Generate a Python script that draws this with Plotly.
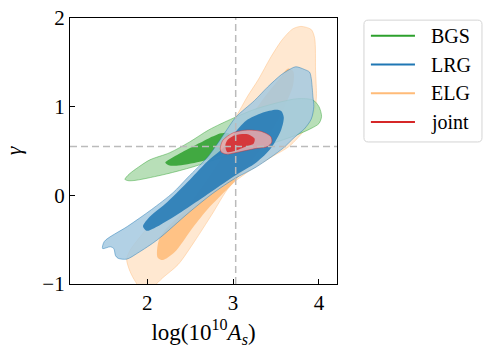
import plotly.graph_objects as go

# fiducial values (dashed guides)
AS_FID = 3.03
GAMMA_FID = 0.55

# 68% / 95% contour outlines, (log(10^10 A_s), gamma)
BGS_OUTER_X = [1.74, 1.79, 1.90, 2.03, 2.26, 2.49, 2.72, 3.00, 3.25, 3.56, 3.75, 3.93, 4.00, 4.03, 4.00, 3.91, 3.71, 3.34, 2.88, 2.53, 2.22, 1.87, 1.78]
BGS_OUTER_Y = [0.18, 0.24, 0.32, 0.40, 0.48, 0.60, 0.74, 0.87, 0.97, 1.055, 1.09, 1.075, 1.00, 0.89, 0.81, 0.755, 0.67, 0.55, 0.43, 0.32, 0.24, 0.17, 0.165]
BGS_INNER_X = [2.21, 2.30, 2.41, 2.61, 2.72, 2.86, 2.95, 2.98, 2.84, 2.61, 2.34, 2.25]
BGS_INNER_Y = [0.37, 0.43, 0.49, 0.59, 0.645, 0.70, 0.70, 0.58, 0.45, 0.38, 0.335, 0.34]

LRG_OUTER_X = [3.64, 3.73, 3.83, 3.89, 3.91, 3.93, 3.94, 3.91, 3.83, 3.71, 3.58, 3.27, 3.02, 2.76, 2.49, 2.12, 1.89, 1.76, 1.66, 1.63, 1.61, 1.57, 1.48, 1.50, 1.77, 2.05, 2.30, 2.47, 2.72, 2.90, 3.03, 3.25, 3.40, 3.56]
LRG_OUTER_Y = [1.41, 1.45, 1.42, 1.39, 1.32, 1.11, 1.00, 0.86, 0.75, 0.65, 0.53, 0.32, 0.19, 0.02, -0.19, -0.50, -0.65, -0.72, -0.71, -0.68, -0.60, -0.58, -0.60, -0.52, -0.35, -0.16, 0.03, 0.20, 0.45, 0.70, 0.88, 1.07, 1.22, 1.36]
LRG_INNER_X = [1.95, 2.01, 2.24, 2.49, 2.72, 2.88, 3.00, 3.15, 3.34, 3.50, 3.56, 3.59, 3.56, 3.44, 3.27, 3.02, 2.67, 2.36, 2.08, 1.99]
LRG_INNER_Y = [-0.35, -0.26, -0.07, 0.17, 0.40, 0.53, 0.68, 0.84, 0.93, 0.965, 0.95, 0.88, 0.74, 0.53, 0.37, 0.22, -0.01, -0.21, -0.37, -0.40]

ELG_OUTER_X = [3.70, 3.79, 3.91, 3.95, 3.96, 3.97, 3.95, 3.85, 3.65, 3.46, 3.15, 2.96, 2.75, 2.55, 2.36, 2.18, 2.08, 1.95, 1.86, 1.80, 1.76, 1.80, 1.89, 2.08, 2.32, 2.55, 2.80, 3.03, 3.17, 3.29, 3.44, 3.56, 3.64]
ELG_OUTER_Y = [1.88, 1.905, 1.87, 1.77, 1.41, 1.12, 0.95, 0.76, 0.55, 0.44, 0.25, 0.10, -0.22, -0.52, -0.78, -0.93, -1.02, -1.08, -0.97, -0.86, -0.72, -0.62, -0.50, -0.28, -0.04, 0.17, 0.52, 0.88, 1.12, 1.30, 1.56, 1.74, 1.83]
ELG_INNER_X = [2.12, 2.18, 2.32, 2.51, 2.69, 2.88, 3.02, 3.30, 3.55, 3.70, 3.70, 3.64, 3.55, 3.40, 3.10, 2.75, 2.45, 2.20, 2.13]
ELG_INNER_Y = [-0.70, -0.73, -0.64, -0.39, -0.17, 0.02, 0.16, 0.50, 0.90, 1.25, 1.40, 1.43, 1.33, 1.15, 0.75, 0.25, -0.15, -0.40, -0.52]

JOINT_OUTER_X = [2.85, 2.88, 3.00, 3.15, 3.33, 3.44, 3.45, 3.40, 3.27, 3.07, 2.92, 2.86]
JOINT_OUTER_Y = [0.53, 0.62, 0.705, 0.735, 0.72, 0.66, 0.60, 0.55, 0.53, 0.49, 0.465, 0.49]
JOINT_INNER_X = [2.91, 2.94, 3.03, 3.17, 3.25, 3.24, 3.15, 3.02, 2.93]
JOINT_INNER_Y = [0.57, 0.63, 0.68, 0.69, 0.64, 0.585, 0.55, 0.50, 0.49]

LABELS = ["BGS", "LRG", "ELG", "joint"]
COLORS = {"BGS": (44, 160, 44), "LRG": (31, 119, 180), "ELG": (255, 187, 120), "joint": (214, 39, 40)}

CONTOURS = {
    "ELG": (ELG_OUTER_X, ELG_OUTER_Y, ELG_INNER_X, ELG_INNER_Y),
    "BGS": (BGS_OUTER_X, BGS_OUTER_Y, BGS_INNER_X, BGS_INNER_Y),
    "LRG": (LRG_OUTER_X, LRG_OUTER_Y, LRG_INNER_X, LRG_INNER_Y),
    "joint": (JOINT_OUTER_X, JOINT_OUTER_Y, JOINT_INNER_X, JOINT_INNER_Y),
}
DRAW_ORDER = ["ELG", "BGS", "LRG", "joint"]


def rgba(c, a):
    return f"rgba({c[0]},{c[1]},{c[2]},{a})"


def lighter(c, rat=0.6):
    # getdist-style outer band: base colour mixed towards white
    return tuple(round(v * (1 - rat) + 255 * rat) for v in c)


FONT = "Liberation Serif"
fig = go.Figure()

for name in DRAW_ORDER:
    ox, oy, ix, iy = CONTOURS[name]
    c = COLORS[name]
    fig.add_trace(go.Scatter(
        x=ox + ox[:1], y=oy + oy[:1], mode="lines", fill="toself",
        fillcolor=rgba(lighter(c), 0.85),
        line=dict(color=rgba(c, 0.45), width=1, shape="spline", smoothing=0.8),
        hoverinfo="skip", showlegend=False,
    ))
    fig.add_trace(go.Scatter(
        x=ix + ix[:1], y=iy + iy[:1], mode="lines", fill="toself",
        fillcolor=rgba(c, 0.85),
        line=dict(color=rgba(c, 0.0), width=0, shape="spline", smoothing=0.8),
        hoverinfo="skip", showlegend=False,
    ))

fig.add_shape(type="line", x0=AS_FID, x1=AS_FID, y0=0, y1=1, xref="x", yref="paper",
              line=dict(color="#bbbbbb", width=1.5, dash="7px,4px"), layer="above")
fig.add_shape(type="line", x0=0, x1=1, y0=GAMMA_FID, y1=GAMMA_FID, xref="paper", yref="y",
              line=dict(color="#bbbbbb", width=1.5, dash="7px,4px"), layer="above")

# legend drawn by hand (matplotlib-style box outside the axes, paper coords)
bx0, bx1, by0, by1, r = 1.101, 1.543, 0.534, 0.992, 0.016
fig.add_shape(
    type="path", xref="paper", yref="paper",
    path=(f"M {bx0 + r},{by1} L {bx1 - r},{by1} Q {bx1},{by1} {bx1},{by1 - r} "
          f"L {bx1},{by0 + r} Q {bx1},{by0} {bx1 - r},{by0} L {bx0 + r},{by0} "
          f"Q {bx0},{by0} {bx0},{by0 + r} L {bx0},{by1 - r} Q {bx0},{by1} {bx0 + r},{by1} Z"),
    line=dict(color="#d4d4d4", width=1), fillcolor="white",
)
for i, name in enumerate(LABELS):
    yy = 0.933 - i * 0.108
    fig.add_shape(type="line", xref="paper", yref="paper", x0=1.127, x1=1.292, y0=yy, y1=yy,
                  line=dict(color=rgba(COLORS[name], 1), width=2))
    fig.add_annotation(x=1.345, y=yy, xref="paper", yref="paper", text=name,
                       showarrow=False, xanchor="left", yanchor="middle",
                       font=dict(family=FONT, size=20, color="black"))

fig.update_xaxes(
    range=[1.1, 4.21], tickvals=[2, 3, 4], ticktext=["2", "3", "4"],
    ticks="inside", ticklen=5, tickwidth=1, tickcolor="black",
    showline=True, linecolor="black", linewidth=1.2, mirror=True,
    showgrid=False, zeroline=False, automargin=False,
    tickfont=dict(family=FONT, size=21, color="black"),
    title=dict(text="log(10<sup>10</sup><i>A<sub>s</sub></i>)", standoff=9,
               font=dict(family=FONT, size=23, color="black")),
)
fig.update_yaxes(
    range=[-1, 2], tickvals=[-1, 0, 1, 2], ticktext=["\u22121", "0", "1", "2"],
    ticks="inside", ticklen=5, tickwidth=1, tickcolor="black",
    showline=True, linecolor="black", linewidth=1.2, mirror=True,
    showgrid=False, zeroline=False, automargin=False, ticklabeloverflow="allow",
    tickfont=dict(family=FONT, size=21, color="black"),
    title=dict(text="<i>\u03b3</i>", standoff=14,
               font=dict(family=FONT, size=22, color="black")),
)

fig.update_layout(
    width=491, height=354,
    margin=dict(l=70, r=154, t=18, b=70, autoexpand=False),
    plot_bgcolor="white", paper_bgcolor="white",
    showlegend=False,
)

# drop the browser's default body margin so the figure sits at the page corner
fig.write_html("out.html", config={"displayModeBar": False},
               post_script="document.body.style.margin='0';")
